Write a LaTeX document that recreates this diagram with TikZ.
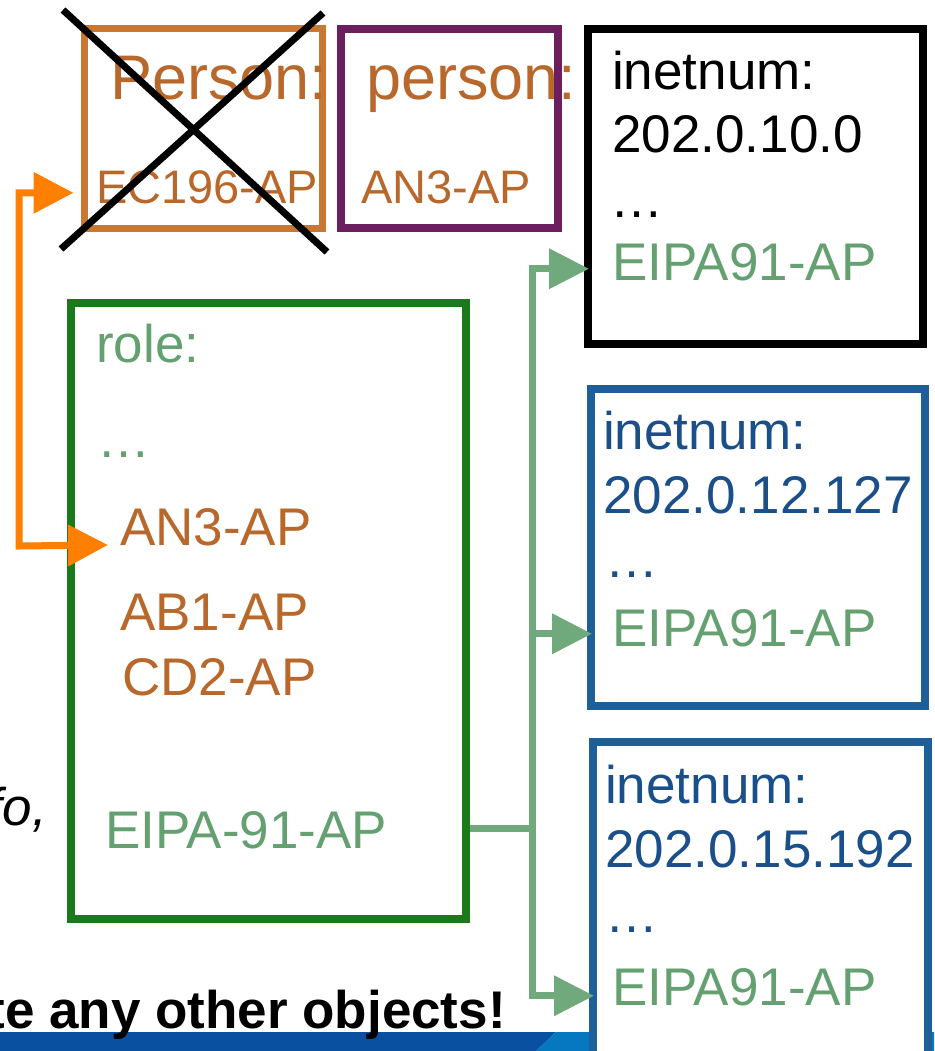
\documentclass[tikz,border=0pt]{standalone}
\usepackage{fontspec}
\setmainfont{Liberation Sans}
\usetikzlibrary{arrows.meta}
\definecolor{PersonOrange}{RGB}{200, 120, 50}
\definecolor{IdBrown}{RGB}{184, 104, 42}
\definecolor{LinkOrange}{RGB}{255, 128, 0}
\definecolor{PersonPurple}{RGB}{107, 31, 94}
\definecolor{RoleGreen}{RGB}{26, 122, 26}
\definecolor{SoftGreen}{RGB}{100, 160, 112}
\definecolor{LinkGreen}{RGB}{112, 170, 124}
\definecolor{InetBlue}{RGB}{31, 95, 153}
\definecolor{TextBlue}{RGB}{26, 79, 138}
\definecolor{BandDark}{RGB}{10, 80, 160}
\definecolor{BandLight}{RGB}{5, 120, 192}

\newcommand{\fsMain}{\fontsize{53}{60}\selectfont}
\newcommand{\fsId}{\fontsize{47}{54}\selectfont}
\newcommand{\fsPerson}{\fontsize{63}{72}\selectfont}

\tikzset{
  objbox/.style={draw, line width=8pt, inner sep=0pt, fill=white},
  txt/.style={anchor=base west, inner sep=0pt, font=\fsMain},
  greenlink/.style={line width=7pt, LinkGreen, shorten >=-5pt, -{Triangle[length=40pt, width=39pt]}},
  orangelink/.style={line width=7pt, LinkOrange, {Triangle[length=40pt, width=40pt]}-{Triangle[length=40pt, width=40pt]}}
}

\begin{document}
\begin{tikzpicture}[x=1pt, y=-1pt]
    \useasboundingbox (0,0) rectangle (934,1051);
    \clip (0,0) rectangle (934,1051);

    % Band at the foot of the slide
    \fill[BandDark] (0,1032) -- (556,1032) -- (536,1051) -- (0,1051) -- cycle;
    \fill[BandLight] (556,1032) -- (934,1032) -- (934,1051) -- (536,1051) -- cycle;

    % Person objects
    \node[objbox, draw=PersonOrange, line width=7pt, minimum width=238pt, minimum height=199pt] (oldp) at (203,128.5) {};
    \node[objbox, draw=PersonPurple, minimum width=217pt, minimum height=199pt] (newp) at (449.5,128.5) {};
    \node[txt, font=\fsPerson, IdBrown] (oldpk) at (110,100) {Person:};
    \node[txt, font=\fsId, IdBrown] (oldpid) at (96,203) {EC196-AP};
    \node[txt, font=\fsPerson, IdBrown] (newpk) at (366,100) {person:};
    \node[txt, font=\fsId, IdBrown] (newpid) at (361,203) {AN3-AP};

    % Cross over the removed person
    \draw[line width=7pt] (63,10) -- (327,252);
    \draw[line width=7pt] (323,13) -- (61,249);

    % Role object
    \node[objbox, draw=RoleGreen, minimum width=395pt, minimum height=616pt] (role) at (268.5,611) {};
    \node[txt, SoftGreen] (rolek) at (96,362) {role:};
    \node[txt, SoftGreen] (roledots) at (97,457) {\dots};
    \node[txt, IdBrown] (an3) at (120,545) {AN3-AP};
    \node[txt, IdBrown] (ab1) at (120,630) {AB1-AP};
    \node[txt, IdBrown] (cd2) at (122,695) {CD2-AP};
    \node[txt, SoftGreen] (roleid) at (105,848) {EIPA-91-AP};

    % inetnum objects
    \node[objbox, draw=black, minimum width=335pt, minimum height=315pt] (inetA) at (755.5,186.5) {};
    \node[txt] (inetAk) at (612,90) {inetnum:};
    \node[txt] (inetAv) at (612,153) {202.0.10.0};
    \node[txt] (inetAd) at (610,217) {\dots};
    \node[txt, SoftGreen] (idA) at (612,280) {EIPA91-AP};

    \node[objbox, draw=InetBlue, minimum width=334pt, minimum height=317pt] (inetB) at (758,547.5) {};
    \node[txt, TextBlue] (inetBk) at (603,449) {inetnum:};
    \node[txt, TextBlue] (inetBv) at (603,513) {202.0.12.127};
    \node[txt, TextBlue] (inetBd) at (605,577) {\dots};
    \node[txt, SoftGreen] (idB) at (612,646) {EIPA91-AP};

    \node[objbox, draw=InetBlue, minimum width=335pt, minimum height=358pt] (inetC) at (760.5,921) {};
    \node[txt, TextBlue] (inetCk) at (605,803) {inetnum:};
    \node[txt, TextBlue] (inetCv) at (605,867) {202.0.15.192};
    \node[txt, TextBlue] (inetCd) at (605,932) {\dots};
    \node[txt, SoftGreen] (idC) at (612,1005) {EIPA91-AP};

    % Slide text cut at the edges
    \node[anchor=base east, inner sep=0pt, font=\fsMain\itshape] (leftcut) at (47,825) {fo,};
    \node[anchor=base east, inner sep=0pt, font=\fsMain\bfseries] (bottomcut) at (506,1028) {te any other objects!};

    % Links
    \coordinate (bend) at (19,546);
    \draw[orangelink] ([xshift=-7pt, yshift=-6pt]oldp.west |- oldpid) -| (bend) -- ([xshift=-12pt]an3.base west);

    \coordinate (fork) at (532,828);
    \draw[line width=7pt, LinkGreen] (role.east |- fork) -- (fork);
    \draw[greenlink] (fork) |- ([yshift=-7pt]inetA.west |- idA);
    \draw[greenlink] (fork) |- ([yshift=-6pt]inetB.west |- idB);
    \draw[greenlink] (fork) |- ([yshift=-9pt]inetC.west |- idC);
\end{tikzpicture}
\end{document}
